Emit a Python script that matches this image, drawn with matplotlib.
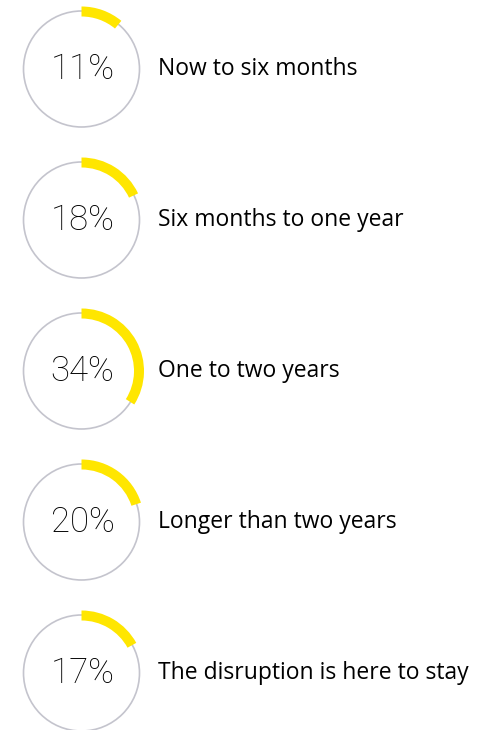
import matplotlib
matplotlib.use('Agg')
import matplotlib.pyplot as plt
from matplotlib.patches import Wedge, Circle

# data
percents = [11, 18, 34, 20, 17]
labels = ['Now to six months', 'Six months to one year', 'One to two years',
          'Longer than two years', 'The disruption is here to stay']

W, H = 483, 730
fig = plt.figure(figsize=(W / 100, H / 100), dpi=100, facecolor='w')
ax = fig.add_axes([0, 0, 1, 1])
ax.set_xlim(0, W)
ax.set_ylim(0, H)
ax.set_aspect('equal')
ax.axis('off')

cx = 81.5
first_cy = 69
step = 151
r_gray = 58
r_out = 62.5
band = 10

for i, (p, lab) in enumerate(zip(percents, labels)):
    cy = H - (first_cy + i * step)
    ax.add_patch(Circle((cx, cy), r_gray, fill=False, edgecolor='#c4c4cd', linewidth=1.2))
    ax.add_patch(Wedge((cx, cy), r_out, 90 - p * 3.6, 90, width=band,
                       facecolor='#ffe600', edgecolor='none'))
    ax.text(cx + 1, cy, str(p) + '%', ha='center', va='center', fontsize=25,
            fontweight='light', family='Roboto', color='#000000')
    ax.text(158, cy, lab, ha='left', va='center', fontsize=16.5,
            family='Open Sans', color='#000000')

fig.savefig('out.png', dpi=100, facecolor='w')
